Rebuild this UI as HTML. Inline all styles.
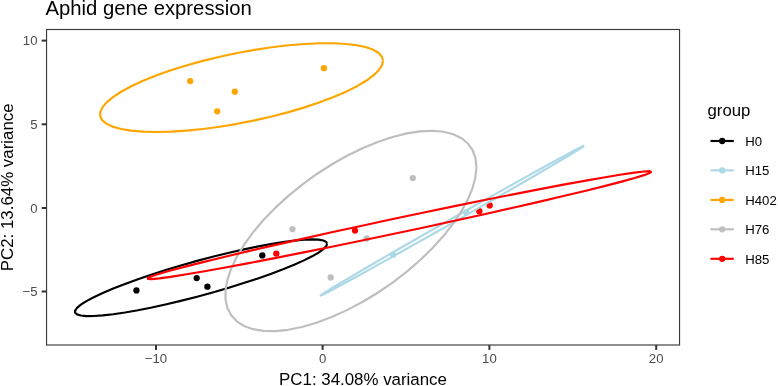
<!DOCTYPE html><html><head><meta charset="utf-8"><style>

html,body{margin:0;padding:0;background:#fff;}
body{width:778px;height:386px;position:relative;overflow:hidden;font-family:"Liberation Sans",sans-serif;}
.t{position:absolute;white-space:nowrap;line-height:1;margin:0;padding:0;will-change:transform;}

</style></head><body>
<svg width="778" height="386" viewBox="0 0 778 386" style="position:absolute;left:0;top:0">
<rect x="0" y="0" width="778" height="386" fill="#ffffff"/>
<circle cx="136.45" cy="290.4" r="3.15" fill="#000000"/>
<circle cx="196.7" cy="278.05" r="3.15" fill="#000000"/>
<circle cx="207.4" cy="286.7" r="3.15" fill="#000000"/>
<circle cx="262.3" cy="255.4" r="3.15" fill="#000000"/>
<circle cx="393.15" cy="254.8" r="3.15" fill="#ADD8E6"/>
<circle cx="466.3" cy="212.5" r="3.15" fill="#ADD8E6"/>
<circle cx="190.2" cy="81.1" r="3.15" fill="#FFA500"/>
<circle cx="234.8" cy="91.7" r="3.15" fill="#FFA500"/>
<circle cx="217.2" cy="111.3" r="3.15" fill="#FFA500"/>
<circle cx="323.9" cy="68.2" r="3.15" fill="#FFA500"/>
<circle cx="292.5" cy="229.1" r="3.15" fill="#BEBEBE"/>
<circle cx="330.7" cy="277.5" r="3.15" fill="#BEBEBE"/>
<circle cx="412.8" cy="178.1" r="3.15" fill="#BEBEBE"/>
<circle cx="366.7" cy="238.5" r="3.15" fill="#BEBEBE"/>
<circle cx="276.3" cy="253.6" r="3.15" fill="#FF0000"/>
<circle cx="355.0" cy="230.6" r="3.15" fill="#FF0000"/>
<circle cx="479.3" cy="211.2" r="3.15" fill="#FF0000"/>
<circle cx="489.7" cy="205.4" r="3.15" fill="#FF0000"/>
<path d="M327.10,243.81 L326.14,246.27 L323.29,249.20 L318.58,252.57 L312.10,256.32 L303.92,260.39 L294.19,264.73 L283.04,269.26 L270.65,273.92 L257.21,278.65 L242.91,283.35 L227.98,287.97 L212.64,292.44 L197.12,296.69 L181.66,300.64 L166.49,304.25 L151.85,307.46 L137.95,310.22 L125.01,312.49 L113.22,314.23 L102.76,315.41 L93.79,316.03 L86.44,316.06 L80.83,315.52 L77.05,314.40 L75.14,312.73 L75.14,310.52 L77.05,307.82 L80.83,304.67 L86.44,301.10 L93.79,297.18 L102.76,292.97 L113.22,288.53 L125.01,283.92 L137.95,279.22 L151.85,274.50 L166.49,269.82 L181.66,265.27 L197.12,260.90 L212.64,256.79 L227.98,253.00 L242.91,249.59 L257.21,246.60 L270.65,244.08 L283.04,242.07 L294.19,240.61 L303.92,239.71 L312.10,239.38 L318.58,239.64 L323.29,240.47 L326.14,241.87 L327.10,243.81" fill="none" stroke="#000000" stroke-width="2.15" stroke-linejoin="round" stroke-linecap="butt"/>
<path d="M584.20,145.80 L583.20,146.65 L580.22,148.62 L575.29,151.69 L568.51,155.80 L559.96,160.90 L549.78,166.90 L538.12,173.72 L525.16,181.25 L511.09,189.37 L496.14,197.98 L480.52,206.92 L464.47,216.08 L448.24,225.31 L432.07,234.46 L416.20,243.41 L400.89,252.01 L386.35,260.14 L372.81,267.67 L360.48,274.49 L349.54,280.50 L340.16,285.59 L332.47,289.71 L326.61,292.77 L322.65,294.75 L320.65,295.60 L320.65,295.32 L322.65,293.90 L326.61,291.38 L332.47,287.78 L340.16,283.17 L349.54,277.61 L360.48,271.19 L372.81,264.00 L386.35,256.16 L400.89,247.78 L416.20,238.99 L432.07,229.92 L448.24,220.71 L464.47,211.50 L480.52,202.43 L496.14,193.64 L511.09,185.26 L525.16,177.41 L538.12,170.22 L549.78,163.80 L559.96,158.24 L568.51,153.62 L575.29,150.03 L580.22,147.50 L583.20,146.09 L584.20,145.80" fill="none" stroke="#ADD8E6" stroke-width="2.15" stroke-linejoin="round" stroke-linecap="butt"/>
<path d="M383.00,60.82 L381.93,65.37 L378.73,70.26 L373.44,75.42 L366.16,80.76 L356.99,86.20 L346.07,91.66 L333.56,97.06 L319.66,102.32 L304.57,107.36 L288.53,112.10 L271.77,116.46 L254.56,120.39 L237.14,123.82 L219.80,126.70 L202.78,128.99 L186.35,130.65 L170.75,131.66 L156.23,132.00 L143.00,131.67 L131.26,130.67 L121.19,129.01 L112.95,126.73 L106.66,123.86 L102.41,120.44 L100.27,116.51 L100.27,112.15 L102.41,107.42 L106.66,102.39 L112.95,97.13 L121.19,91.73 L131.26,86.27 L143.00,80.82 L156.23,75.48 L170.75,70.33 L186.35,65.43 L202.78,60.87 L219.80,56.72 L237.14,53.03 L254.56,49.87 L271.77,47.28 L288.53,45.30 L304.57,43.96 L319.66,43.29 L333.56,43.28 L346.07,43.95 L356.99,45.28 L366.16,47.25 L373.44,49.83 L378.73,52.99 L381.93,56.67 L383.00,60.82" fill="none" stroke="#FFA500" stroke-width="2.15" stroke-linejoin="round" stroke-linecap="butt"/>
<path d="M476.40,167.10 L475.45,177.07 L472.61,187.86 L467.92,199.30 L461.46,211.23 L453.32,223.45 L443.63,235.79 L432.54,248.05 L420.20,260.06 L406.81,271.62 L392.58,282.57 L377.71,292.74 L362.43,301.97 L346.98,310.13 L331.59,317.09 L316.49,322.74 L301.91,327.00 L288.07,329.81 L275.19,331.12 L263.45,330.91 L253.04,329.18 L244.11,325.97 L236.79,321.32 L231.21,315.30 L227.44,308.00 L225.54,299.53 L225.54,290.03 L227.44,279.63 L231.21,268.49 L236.79,256.78 L244.11,244.69 L253.04,232.38 L263.45,220.06 L275.19,207.90 L288.08,196.09 L301.91,184.81 L316.49,174.23 L331.59,164.52 L346.98,155.80 L362.43,148.23 L377.71,141.92 L392.58,136.95 L406.81,133.41 L420.20,131.35 L432.54,130.80 L443.63,131.77 L453.32,134.24 L461.46,138.18 L467.92,143.53 L472.61,150.20 L475.45,158.10 L476.40,167.10" fill="none" stroke="#BEBEBE" stroke-width="2.15" stroke-linejoin="round" stroke-linecap="butt"/>
<path d="M651.60,171.70 L649.69,173.03 L643.99,175.14 L634.58,178.02 L621.60,181.61 L605.26,185.86 L585.80,190.70 L563.52,196.07 L538.75,201.88 L511.87,208.04 L483.29,214.46 L453.43,221.04 L422.76,227.69 L391.74,234.29 L360.83,240.76 L330.51,246.99 L301.23,252.89 L273.45,258.37 L247.58,263.35 L224.00,267.74 L203.09,271.49 L185.16,274.54 L170.48,276.84 L159.26,278.36 L151.69,279.07 L147.88,278.96 L147.88,278.04 L151.69,276.31 L159.26,273.81 L170.48,270.57 L185.16,266.65 L203.09,262.09 L224.00,256.97 L247.58,251.38 L273.45,245.38 L301.23,239.08 L330.51,232.56 L360.83,225.94 L391.74,219.30 L422.76,212.75 L453.43,206.39 L483.29,200.31 L511.87,194.61 L538.75,189.37 L563.52,184.68 L585.80,180.60 L605.26,177.19 L621.60,174.51 L634.58,172.60 L643.99,171.49 L649.69,171.18 L651.60,171.70" fill="none" stroke="#FF0000" stroke-width="2.15" stroke-linejoin="round" stroke-linecap="butt"/>
<rect x="46.55" y="29.5" width="633.0" height="315.5" fill="none" stroke="#3a3a3a" stroke-width="1.15"/>
<line x1="156.0" y1="345.0" x2="156.0" y2="349.9" stroke="#333333" stroke-width="2.0"/>
<line x1="322.6" y1="345.0" x2="322.6" y2="349.9" stroke="#333333" stroke-width="2.0"/>
<line x1="489.4" y1="345.0" x2="489.4" y2="349.9" stroke="#333333" stroke-width="2.0"/>
<line x1="656.2" y1="345.0" x2="656.2" y2="349.9" stroke="#333333" stroke-width="2.0"/>
<line x1="41.65" y1="40.6" x2="46.55" y2="40.6" stroke="#333333" stroke-width="2.0"/>
<line x1="41.65" y1="124.3" x2="46.55" y2="124.3" stroke="#333333" stroke-width="2.0"/>
<line x1="41.65" y1="208.0" x2="46.55" y2="208.0" stroke="#333333" stroke-width="2.0"/>
<line x1="41.65" y1="291.5" x2="46.55" y2="291.5" stroke="#333333" stroke-width="2.0"/>
<line x1="710.5" y1="141.0" x2="733.8" y2="141.0" stroke="#000000" stroke-width="2.15"/>
<circle cx="722.2" cy="141.0" r="3.15" fill="#000000"/>
<line x1="710.5" y1="170.4" x2="733.8" y2="170.4" stroke="#ADD8E6" stroke-width="2.15"/>
<circle cx="722.2" cy="170.4" r="3.15" fill="#ADD8E6"/>
<line x1="710.5" y1="199.9" x2="733.8" y2="199.9" stroke="#FFA500" stroke-width="2.15"/>
<circle cx="722.2" cy="199.9" r="3.15" fill="#FFA500"/>
<line x1="710.5" y1="229.3" x2="733.8" y2="229.3" stroke="#BEBEBE" stroke-width="2.15"/>
<circle cx="722.2" cy="229.3" r="3.15" fill="#BEBEBE"/>
<line x1="710.5" y1="258.8" x2="733.8" y2="258.8" stroke="#FF0000" stroke-width="2.15"/>
<circle cx="722.2" cy="258.8" r="3.15" fill="#FF0000"/>
</svg>

















<svg width="778" height="386" viewBox="0 0 778 386" style="position:absolute;left:0;top:0;will-change:transform;font-family:'Liberation Sans',sans-serif"><text x="45.5" y="15.0" font-size="20.1" fill="#000" text-anchor="start" textLength="206.2" lengthAdjust="spacingAndGlyphs">Aphid gene expression</text><text x="156.0" y="363.2" font-size="13.2" fill="#4D4D4D" text-anchor="middle">−10</text><text x="322.6" y="363.2" font-size="13.2" fill="#4D4D4D" text-anchor="middle">0</text><text x="489.4" y="363.2" font-size="13.2" fill="#4D4D4D" text-anchor="middle">10</text><text x="656.2" y="363.2" font-size="13.2" fill="#4D4D4D" text-anchor="middle">20</text><text x="37.5" y="45.4" font-size="13.2" fill="#4D4D4D" text-anchor="end">10</text><text x="37.5" y="129.1" font-size="13.2" fill="#4D4D4D" text-anchor="end">5</text><text x="37.5" y="212.8" font-size="13.2" fill="#4D4D4D" text-anchor="end">0</text><text x="37.5" y="296.3" font-size="13.2" fill="#4D4D4D" text-anchor="end">−5</text><text x="363.0" y="384.6" font-size="16.87" fill="#000" text-anchor="middle">PC1: 34.08% variance</text><text x="13.2" y="187.3" font-size="16.87" fill="#000" text-anchor="middle" transform="rotate(-90 13.2 187.3)">PC2: 13.64% variance</text><text x="707.5" y="116.0" font-size="16.75" fill="#000" text-anchor="start">group</text><text x="745.2" y="145.7" font-size="13.2" fill="#000" text-anchor="start">H0</text><text x="745.2" y="175.1" font-size="13.2" fill="#000" text-anchor="start">H15</text><text x="745.2" y="204.6" font-size="13.2" fill="#000" text-anchor="start">H402</text><text x="745.2" y="234.0" font-size="13.2" fill="#000" text-anchor="start">H76</text><text x="745.2" y="263.5" font-size="13.2" fill="#000" text-anchor="start">H85</text></svg>
</body></html>
